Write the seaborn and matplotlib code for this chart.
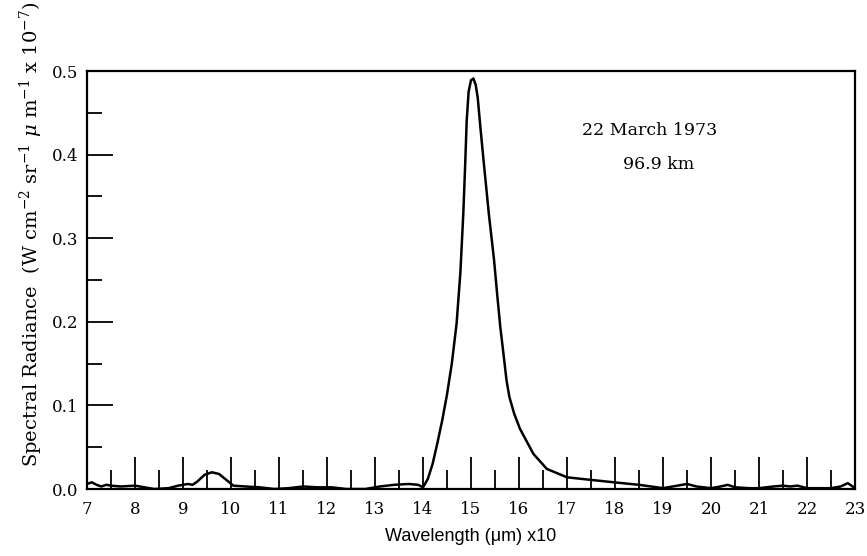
import numpy as np
import pandas as pd
import matplotlib
matplotlib.use('Agg')
import matplotlib.pyplot as plt
from matplotlib.ticker import MultipleLocator
import seaborn as sns

# Spectrum (wavelength in um x10, radiance x 1e-7)
wavelength = [7.0, 7.1, 7.2, 7.3, 7.4, 7.5, 7.7, 8.0, 8.2, 8.4, 8.7, 8.9,
              9.1, 9.2, 9.3, 9.45, 9.6, 9.75, 9.9, 10.05, 10.3, 10.6, 10.9,
              11.2, 11.5, 11.8, 12.1, 12.4, 12.8, 13.1, 13.4, 13.7, 13.9,
              14.0, 14.1, 14.2, 14.3, 14.4, 14.5, 14.6, 14.7, 14.78, 14.84,
              14.88, 14.91, 14.95, 15.0, 15.05, 15.1, 15.14, 15.2, 15.26,
              15.37, 15.48, 15.55, 15.61, 15.68, 15.74, 15.8, 15.9, 16.02,
              16.3, 16.58, 17.0, 17.48, 17.98, 18.5, 19.0, 19.3, 19.5, 19.7,
              20.0, 20.2, 20.35, 20.5, 20.8, 21.0, 21.3, 21.5, 21.65, 21.8,
              22.0, 22.5, 22.7, 22.85, 23.0]
radiance = [0.006, 0.008, 0.005, 0.003, 0.005, 0.004, 0.003, 0.004, 0.002,
            0.000, 0.001, 0.004, 0.006, 0.005, 0.009, 0.017, 0.020, 0.018,
            0.011, 0.004, 0.003, 0.002, 0.000, 0.001, 0.003, 0.002, 0.002,
            0.000, 0.000, 0.003, 0.005, 0.006, 0.005,
            0.002, 0.012, 0.030, 0.055, 0.082, 0.113, 0.150, 0.198, 0.260,
            0.330, 0.390, 0.440, 0.475, 0.489, 0.491, 0.483, 0.468, 0.430,
            0.394, 0.330, 0.274, 0.230, 0.194, 0.160, 0.130, 0.110, 0.090,
            0.072, 0.042, 0.024, 0.014, 0.011, 0.008, 0.005, 0.001, 0.004,
            0.006, 0.003, 0.001, 0.003, 0.005, 0.002, 0.001, 0.001, 0.003,
            0.004, 0.003, 0.004, 0.001, 0.001, 0.003, 0.007, 0.001]

x_ticks = list(range(7, 24))
y_ticks = [0.0, 0.1, 0.2, 0.3, 0.4, 0.5]

df = pd.DataFrame({'wavelength': wavelength, 'radiance': radiance})

sns.set_theme(style='ticks')
plt.rcParams['font.family'] = ['DejaVu Serif']
plt.rcParams['mathtext.fontset'] = 'dejavuserif'
plt.rcParams['text.color'] = 'black'

fig = plt.figure(figsize=(8.67, 5.56), dpi=100)
ax = fig.add_axes([87 / 867, 1 - 489 / 556, 768 / 867, 418 / 556])

sns.lineplot(data=df, x='wavelength', y='radiance', color='black',
             linewidth=1.8, ax=ax)

ax.set_xlim(7, 23)
ax.set_ylim(0, 0.5)
ax.set_xticks(x_ticks)
ax.set_yticks(y_ticks)
ax.set_yticklabels([f'{v:.1f}' for v in y_ticks])
ax.xaxis.set_minor_locator(MultipleLocator(0.5))
ax.yaxis.set_minor_locator(MultipleLocator(0.05))

ax.tick_params(axis='x', which='major', direction='in', length=23, width=1.3,
               color='black', labelsize=12, pad=9, labelcolor='black')
ax.tick_params(axis='x', which='minor', direction='in', length=13.5,
               width=1.3, color='black')
ax.tick_params(axis='y', which='major', direction='in', length=19, width=1.3,
               color='black', labelsize=12, pad=6, labelcolor='black')
ax.tick_params(axis='y', which='minor', direction='in', length=11,
               width=1.3, color='black')

for side in ['left', 'right', 'top', 'bottom']:
    ax.spines[side].set_visible(True)
    ax.spines[side].set_color('black')
    ax.spines[side].set_linewidth(1.6)

ax.set_xlabel('Wavelength (μm) x10', family='Liberation Sans', fontsize=13,
              color='black', labelpad=7)
ax.set_ylabel(r'Spectral Radiance  (W cm$^{-2}$ sr$^{-1}$ $\mu$ m$^{-1}$ x 10$^{-7}$)',
              fontsize=14, color='black')
ax.yaxis.set_label_coords(-0.055, 0.61)

ax.text(17.31, 0.429, '22 March 1973', fontsize=12.5, va='center', ha='left',
        color='black')
ax.text(18.17, 0.388, '96.9 km', fontsize=12.5, va='center', ha='left',
        color='black')

ax.grid(False)
fig.savefig('out.png', dpi=100, facecolor='white')
